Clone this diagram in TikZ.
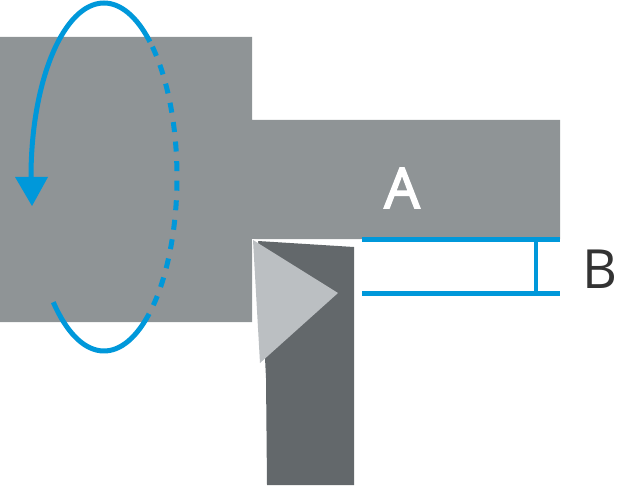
\documentclass[tikz,border=0pt]{standalone}
\usepackage{fontspec}
\usepackage{xcolor}
\setmainfont{Open Sans}
\newfontfamily\labelmedium[FakeBold=3]{Open Sans}
\usetikzlibrary{calc,positioning}
\definecolor{workgray}{HTML}{8F9496}
\definecolor{tooldark}{HTML}{63686B}
\definecolor{insertgray}{HTML}{BBBFC2}
\definecolor{markblue}{HTML}{0098DA}
\definecolor{labeldark}{HTML}{333333}
\begin{document}
\begin{tikzpicture}[
  x=1pt,y=-1pt,
  every label text/.style={font=\fontsize{54}{54}\selectfont,inner sep=0pt},
  spin line/.style={draw=markblue,line width=5pt},
  spin dash/.style={spin line,dash pattern=on 10pt off 9.6pt,dash phase=14pt},
  gap line/.style={draw=markblue,line width=4.6pt}]
  \useasboundingbox (0,0) rectangle (620,486);
  % workpiece, tool holder, insert
  \fill [workgray] (0,37) -- (252,37) -- (252,120) -- (560,120) -- (560,239) -- (252,239) -- (252,322) -- (0,322) -- cycle;
  \fill [tooldark] (258,241) -- (354,247) -- (354,485) -- (267,485) -- (266,378) -- (265,358) -- cycle;
  \fill [white] (252,239) -- (258,240) -- (262,363) -- (259,366) -- cycle;
  \fill [insertgray] (253,240) -- (338,293) -- (260,363) -- cycle;
  % rotation: start at the left of the ellipse, over the top
  \coordinate (spin c) at (104,177);
  \coordinate (spin l) at ($(spin c)+(-73,0)$);
  \coordinate (spin t) at ($(spin c)+({73*cos(51)},{-174*sin(51)})$);
  \coordinate (spin b) at ($(spin c)+({73*cos(52)},{174*sin(52)})$);
  \draw [spin line] (spin l) arc [start angle=-180,end angle=-51,x radius=73,y radius=174];
  \draw [spin dash] (spin t) arc [start angle=-51,end angle=52,x radius=73,y radius=174];
  \draw [spin line] (spin b) arc [start angle=52,end angle=134,x radius=73,y radius=174];
  \coordinate (tip) at (32,206);
  \fill [markblue] (15,177) -- (48,177) -- (tip) -- cycle;
  % gap marks
  \coordinate (top l) at (362,239.5);
  \coordinate (top r) at (560,239.5);
  \coordinate (bot l) at (362,293.5);
  \coordinate (bot r) at (560,293.5);
  \coordinate (top m) at (536,239.5);
  \coordinate (bot m) at (536,293.5);
  \draw [gap line] (top l) -- (top r);
  \draw [gap line] (bot l) -- (bot r);
  \draw [gap line] (top m) -- (bot m);
  \node [every label text,text=white,font=\labelmedium\fontsize{56}{56}\selectfont] (label a) at (402,188) {A};
  \node [every label text,text=labeldark] (label b) at (600,269) {B};
\end{tikzpicture}
\end{document}
